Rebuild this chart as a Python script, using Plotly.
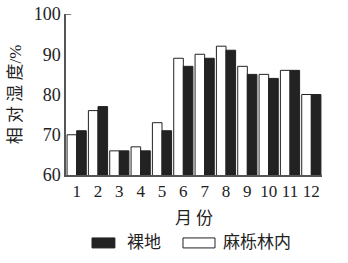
import plotly.graph_objects as go

months = [str(i) for i in range(1, 13)]
forest = [70, 76, 66, 67, 73, 89, 90, 92, 87, 85, 86, 80]   # 麻栎林内
bare = [71, 77, 66, 66, 71, 87, 89, 91, 85, 84, 86, 80]     # 裸地
y_ticks = [60, 70, 80, 90, 100]
legend_names = ["裸地", "麻栎林内"]
legend_colors = ["#222", "white"]

font_family = "Liberation Serif, Noto Sans CJK SC, serif"

fig = go.Figure()
fig.add_trace(go.Bar(x=months, y=forest, name=legend_names[1],
                     marker=dict(color="white", line=dict(color="#222", width=1)),
                     showlegend=False))
fig.add_trace(go.Bar(x=months, y=bare, name=legend_names[0],
                     marker=dict(color="#222", line=dict(color="#222", width=1)),
                     showlegend=False))

fig.update_layout(
    width=348, height=263,
    margin=dict(l=66, r=26, t=14, b=88),
    paper_bgcolor="white", plot_bgcolor="white",
    barmode="group", bargap=0.1, bargroupgap=0,
    font=dict(family=font_family, size=17, color="#222"),
    showlegend=False,
    xaxis=dict(showline=True, linecolor="#555", linewidth=1.5, ticks="",
               showgrid=False, tickfont=dict(size=17), automargin=False,
               title=dict(text="月 份", font=dict(size=17), standoff=12)),
    yaxis=dict(range=[60, 100], tickvals=y_ticks, showline=True, linecolor="#555",
               linewidth=1.5, ticks="", showgrid=False, zeroline=False,
               tickfont=dict(size=18), automargin=False,
               title=dict(text="相 对 湿 度/%", font=dict(size=17), standoff=8)),
)
fig.add_shape(type="line", xref="paper", yref="y", x0=0, x1=0.02, y0=100, y1=100,
              line=dict(color="#555", width=1.5))

# custom legend (wide rectangular swatches as in the reference)
sw = [(0.1016, 0.191, 0.230), (0.457, 0.582, 0.605)]
for (x0, x1, tx), name, col in zip(sw, legend_names, legend_colors):
    fig.add_shape(type="rect", xref="paper", yref="paper", x0=x0, x1=x1,
                  y0=-0.453, y1=-0.391, fillcolor=col, line=dict(color="#222", width=1))
    fig.add_annotation(xref="paper", yref="paper", x=tx, y=-0.422, xanchor="left",
                       yanchor="middle", text=name, showarrow=False,
                       font=dict(size=17))

fig.write_html("out.html")
